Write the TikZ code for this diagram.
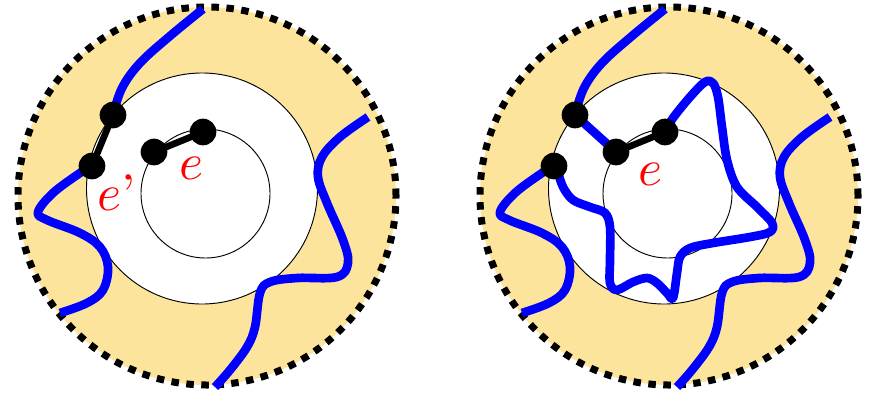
\documentclass[tikz,border=0pt]{standalone}
\definecolor{sand}{HTML}{FCE49C}
\newcommand{\diskbase}{%
  \fill[sand] (207,196) circle[radius=5.67cm];
  \draw[dotborder] (207,196) circle[radius=5.67cm];
  \draw[thincirc] (202,188.5) circle[radius=3.465cm];
  \draw[thincirc] (205.5,193.5) circle[radius=1.935cm];
  \coordinate (pa) at (113,115);
  \coordinate (pb) at (92,166);
  \coordinate (pc) at (154,152);
  \coordinate (pd) at (203,132);
  \draw[bluecurve] plot[smooth,tension=0.6] coordinates {(203,9) (170,36) (140,63) (122,88) (pa)};
  \draw[bluecurve] plot[smooth,tension=0.6] coordinates {(pb) (80,173) (53,193) (38,212) (47,220) (80,233) (100,247) (108,267) (103,290) (87,303) (60,313)};
  \draw[bluecurve] plot[smooth,tension=0.6] coordinates {(368,117) (340,137) (322,157) (318,177) (327,203) (343,240) (348,263) (337,277) (297,278) (270,282) (260,293) (255,327) (247,347) (230,370) (215,387)};
}
\newcommand{\diskvertices}{%
  \node[vtx] (a) at (pa) {};
  \node[vtx] (b) at (pb) {};
  \node[vtx] (c) at (pc) {};
  \node[vtx] (d) at (pd) {};
}
\begin{document}
\begin{tikzpicture}[x=0.03cm,y=-0.03cm,
  dotborder/.style={line width=0.21cm, dash pattern=on 0.225cm off 0.225cm},
  thincirc/.style={draw=black, line width=0.8pt, fill=white},
  bluecurve/.style={draw=blue, line width=0.26cm, line join=round},
  edgeline/.style={draw=black, line width=0.2cm},
  vtx/.style={circle, fill=black, inner sep=0pt, minimum size=0.8cm},
  lbl/.style={text=red, scale=4.4, inner sep=0pt}]
\useasboundingbox (0,0) rectangle (873,393);
% left disk
\begin{scope}[name prefix=L-]
  \diskbase
  \draw[edgeline] (pa) -- (pb);
  \draw[edgeline] (pc) -- (pd);
  \diskvertices
  \node[lbl] (e) at (191,168) {$e$};
  \node[lbl] (ep) at (117,193) {$e$'};
\end{scope}
% right disk
\begin{scope}[shift={(462,0)}, name prefix=R-]
  \diskbase
  \draw[bluecurve] (pa) -- (pc);
  \draw[bluecurve] plot[smooth,tension=0.55] coordinates {(pd) (211,118) (228,97) (243,82) (251,83) (256,97) (260,127) (265,160) (275,187) (295,207) (310,223) (308,232) (288,237) (251,243) (228,248) (218,257) (215,273) (211,298) (205,293) (195,283) (185,278) (171,282) (155,290) (148,283) (148,260) (148,227) (143,213) (128,207) (111,200) (101,187) (95,170) (pb)};
  \draw[edgeline] (pc) -- (pd);
  \diskvertices
  \node[lbl] (e) at (188,174) {$e$};
\end{scope}
\end{tikzpicture}
\end{document}
